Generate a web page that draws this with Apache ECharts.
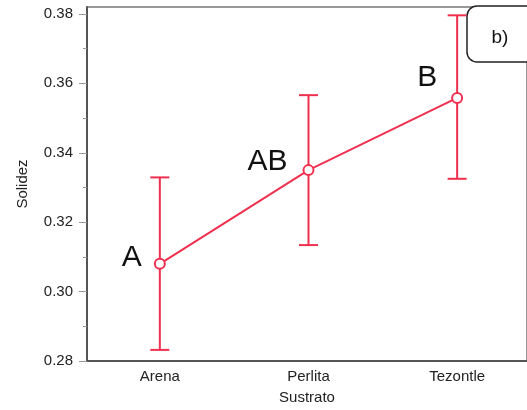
<!DOCTYPE html>
<html>
<head>
<meta charset="utf-8">
<script src="https://cdn.jsdelivr.net/npm/echarts@6/dist/echarts.min.js"></script>
<style>html,body{margin:0;padding:0;background:#fff;}#c{width:527px;height:410px;}</style>
</head>
<body>
<div id="c"></div>
<script>
var categories = ['Arena', 'Perlita', 'Tezontle'];
var means = [0.308, 0.335, 0.3558];
var lower = [0.2832, 0.3134, 0.3325];
var upper = [0.3329, 0.3566, 0.3796];
var groups = ['A', 'AB', 'B'];
var categoryIndex = [0, 1, 2];
var majorTicks = [0.28, 0.30, 0.32, 0.34, 0.36, 0.38];
var minorTicks = [0.29, 0.31, 0.33, 0.35, 0.37];

var RED = '#f0304f';
var labelOffsets = [[-7, -6], [-10, -8], [-9, -20]];

var chart = echarts.init(document.getElementById('c'), null, {renderer: 'canvas'});
var textStyle = {fontFamily: 'Liberation Sans, Arial, sans-serif', color: '#222'};

var option = {
  animation: false,
  grid: {left: 87, top: 7, bottom: 49, right: 0, show: true, borderColor: '#333', borderWidth: 1, containLabel: false},
  xAxis: {
    type: 'value',
    min: -0.49,
    max: 2.47,
    name: 'Sustrato',
    nameLocation: 'middle',
    nameGap: 29,
    nameTextStyle: Object.assign({fontSize: 15}, textStyle),
    axisLine: {onZero: false, lineStyle: {color: '#555', width: 2}},
    axisTick: {show: false},
    axisLabel: Object.assign({fontSize: 15, margin: 8, customValues: categoryIndex,
      formatter: function (v) { return categories[Math.round(v)]; }}, textStyle),
    splitLine: {show: false}
  },
  yAxis: [{
    type: 'value',
    min: 0.28,
    max: 0.382,
    name: 'Solidez',
    nameLocation: 'middle',
    nameGap: 57,
    nameTextStyle: Object.assign({fontSize: 15}, textStyle),
    axisLine: {show: true, onZero: false, lineStyle: {color: '#555', width: 2}},
    axisTick: {show: true, length: 8, customValues: majorTicks, lineStyle: {color: '#999'}},
    axisLabel: Object.assign({fontSize: 15, margin: 14, customValues: majorTicks, formatter: function (v) { return v.toFixed(2); }}, textStyle),
    splitLine: {show: false}
  }, {
    type: 'value',
    min: 0.28,
    max: 0.382,
    position: 'left',
    axisLine: {show: false, onZero: false},
    axisTick: {show: true, length: 4, customValues: minorTicks, lineStyle: {color: '#999'}},
    axisLabel: {show: false, customValues: minorTicks},
    splitLine: {show: false}
  }],
  series: [{
    type: 'custom',
    data: categoryIndex.map(function (i) { return [i, lower[i], upper[i]]; }),
    renderItem: function (params, api) {
      var x = api.value(0);
      var lo = api.coord([x, api.value(1)]);
      var hi = api.coord([x, api.value(2)]);
      var hw = 9.5;
      var st = {stroke: RED, lineWidth: 2};
      return {
        type: 'group',
        children: [
          {type: 'line', shape: {x1: lo[0], y1: lo[1], x2: hi[0], y2: hi[1]}, style: st},
          {type: 'line', shape: {x1: lo[0] - hw, y1: lo[1], x2: lo[0] + hw, y2: lo[1]}, style: st},
          {type: 'line', shape: {x1: hi[0] - hw, y1: hi[1], x2: hi[0] + hw, y2: hi[1]}, style: st}
        ]
      };
    },
    z: 2
  }, {
    type: 'line',
    data: categoryIndex.map(function (i) {
      return {value: [i, means[i]], label: {offset: labelOffsets[i]}};
    }),
    symbol: 'emptyCircle',
    symbolSize: 10,
    lineStyle: {color: RED, width: 2},
    itemStyle: {color: RED, borderColor: RED, borderWidth: 1.5},
    label: {
      show: true,
      position: 'left',
      formatter: function (p) { return groups[p.dataIndex]; },
      fontSize: 30,
      fontFamily: 'Liberation Sans, Arial, sans-serif',
      color: '#111'
    },
    z: 3
  }],
  graphic: [{
    type: 'group',
    children: [
      {type: 'rect', shape: {x: 467, y: 6, width: 90, height: 56, r: 10}, style: {fill: '#fff', stroke: '#222', lineWidth: 1.5}},
      {type: 'text', style: {x: 500, y: 38, text: 'b)', fontSize: 19, fontFamily: 'Liberation Sans, Arial, sans-serif', fill: '#111', align: 'center', verticalAlign: 'middle'}}
    ],
    z: 10
  }]
};
chart.setOption(option);
</script>
</body>
</html>
